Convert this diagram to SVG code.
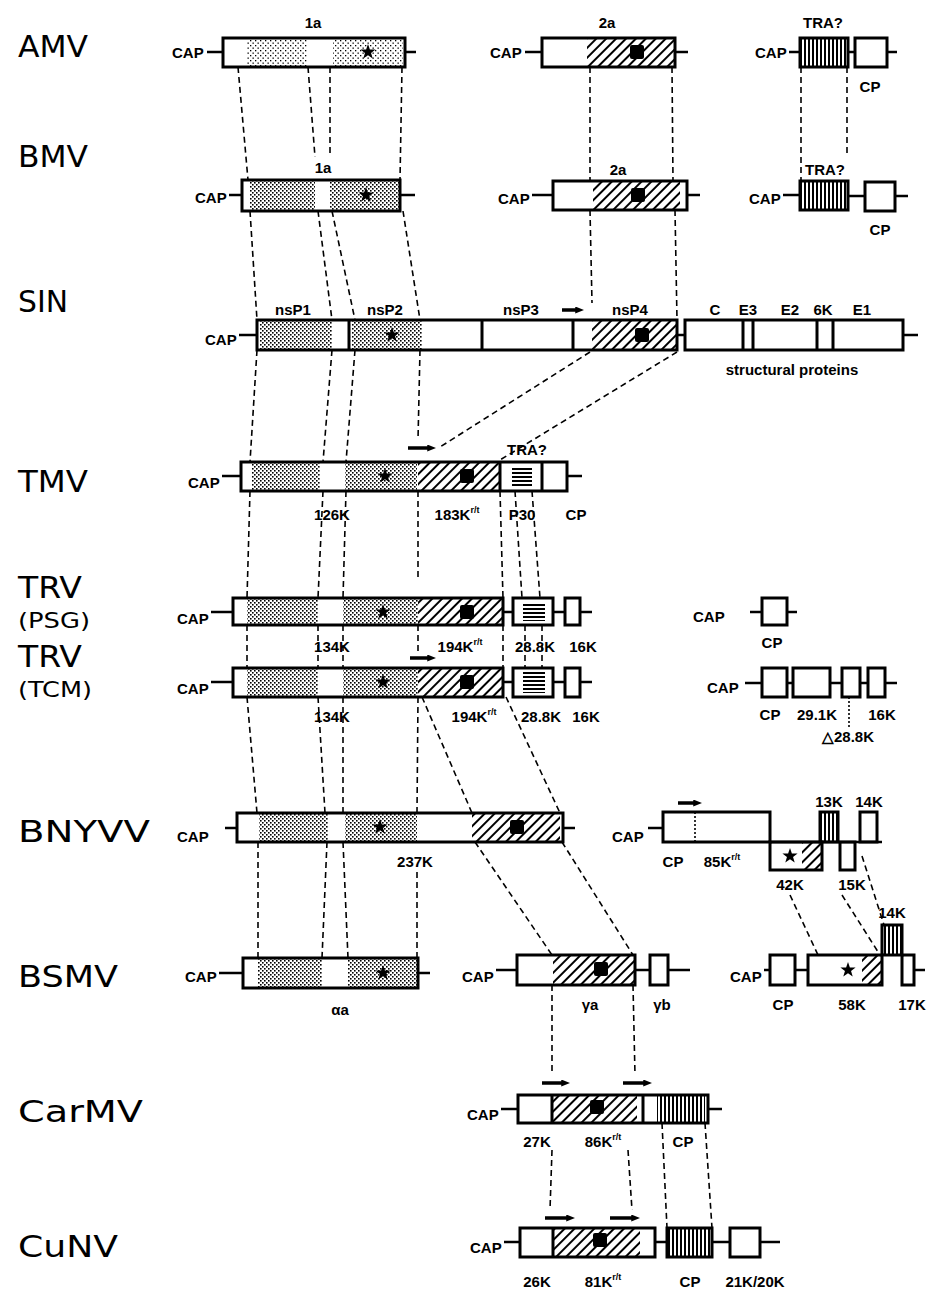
<svg xmlns="http://www.w3.org/2000/svg" width="929" height="1296" viewBox="0 0 929 1296">
<style>
.o{fill:none;stroke:#000;stroke-width:3}
.w{stroke:#000;stroke-width:2.5;fill:none}
.d{stroke:#000;stroke-width:1.6;stroke-dasharray:6 4;fill:none}
.dt{stroke:#000;stroke-width:1.6;stroke-dasharray:2 2;fill:none}
.t{font-family:"Liberation Sans",Arial,sans-serif;font-weight:bold;font-size:15px;fill:#000}
.m{text-anchor:middle}
.v{font-family:"DejaVu Sans",sans-serif;font-size:30px;fill:#000}
.v2{font-family:"DejaVu Sans",sans-serif;font-size:21px;fill:#000}
.s{font-size:9px}
.ar{stroke:#000;stroke-width:3.5;marker-end:url(#ah)}
</style>
<defs>
<pattern id="dots" width="4" height="4" patternUnits="userSpaceOnUse"><rect width="1.6" height="1.6"/><rect x="2" y="2" width="1.6" height="1.6"/></pattern>
<pattern id="dotsL" width="5" height="5" patternUnits="userSpaceOnUse"><rect width="1.3" height="1.3"/><rect x="2.5" y="2.5" width="1.3" height="1.3"/></pattern>
<pattern id="hatch" width="7" height="7" patternUnits="userSpaceOnUse" patternTransform="rotate(45)"><rect width="2" height="7"/></pattern>
<pattern id="vl" width="4" height="8" patternUnits="userSpaceOnUse"><rect width="2" height="8"/></pattern>
<pattern id="hl" width="8" height="4" patternUnits="userSpaceOnUse"><rect width="8" height="2"/></pattern>
<polygon id="star" points="0,-8 1.88,-2.59 7.61,-2.47 3.04,0.99 4.70,6.47 0,3.2 -4.70,6.47 -3.04,0.99 -7.61,-2.47 -1.88,-2.59"/>
<rect id="sq" x="-7" y="-7" width="14" height="14" rx="2"/>
<marker id="ah" markerWidth="2.5" markerHeight="2" refX="0.5" refY="1" orient="auto"><path d="M0,0 L2.5,1 L0,2z"/></marker>
</defs>
<rect width="929" height="1296" fill="#fff"/>

<g id="connectors">
<path class="d" d="M238 67L248 180M308 67L315 157M330 67L330 157M402 67L400 180"/>
<path class="d" d="M590 67L590 181M672 67L673 181M801 67L801 181M847 67L847 157"/>
<path class="d" d="M250 211L257 320M318 211L332 320M332 211L355 320M403 211L420 320"/>
<path class="d" d="M590 210L592 303M675 210L677 320"/>
<path class="d" d="M257 350L250 462M332 350L323 462M355 350L346 462M420 350L418 440"/>
<path class="d" d="M590 352L440 447M677 352L500 460"/>
<path class="d" d="M250 491L247 598M323 491L318 598M346 491L343 598M418 491L418 580M500 491L503 598M515 491L522 598M532 491L540 598"/>
<path class="d" d="M247 625L247 668M318 625L318 668M343 625L343 668M418 625L418 651M503 625L503 668M525 625L525 668M542 625L542 668"/>
<path class="d" d="M247 697L257 813M318 697L325 813M343 697L343 813M418 697L417 813M422 697L472 813M506 697L560 813"/>
<path class="d" d="M258 842L258 958M327 842L322 958M343 842L348 958M417 872L417 958M475 842L552 955M562 842L633 955"/>
<path class="d" d="M790 895L818 955M842 895L880 955M862 856L884 925"/>
<path class="d" d="M552 985L552 1075M633 985L635 1075"/>
<path class="d" d="M552 1150L550 1210M628 1150L632 1210M662 1123L667 1228M705 1123L712 1228"/>
<path class="dt" d="M849 697L849 728"/>
</g>

<g id="AMV">
<text class="v" x="18" y="57" textLength="70" lengthAdjust="spacingAndGlyphs">AMV</text>
<text class="t" x="172" y="58">CAP</text>
<path class="w" d="M207 52H223M405 52H416"/>
<rect x="247" y="38" width="60" height="29" fill="url(#dotsL)"/>
<rect x="333" y="38" width="70" height="29" fill="url(#dotsL)"/>
<use href="#star" x="368" y="52"/>
<rect class="o" x="223" y="38" width="182" height="29"/>
<text class="t m" x="313" y="28">1a</text>
<text class="t" x="490" y="58">CAP</text>
<path class="w" d="M525 52H542M675 52H688"/>
<rect x="587" y="38" width="88" height="29" fill="url(#hatch)"/>
<use href="#sq" x="637" y="52"/>
<rect class="o" x="542" y="38" width="133" height="29"/>
<text class="t m" x="607" y="28">2a</text>
<text class="t" x="755" y="58">CAP</text>
<path class="w" d="M789 52H800M848 52H855M887 52H897"/>
<rect x="800" y="38" width="48" height="29" fill="url(#vl)"/>
<rect class="o" x="800" y="38" width="48" height="29"/>
<rect class="o" x="855" y="38" width="32" height="29"/>
<text class="t m" x="823" y="28">TRA?</text>
<text class="t m" x="870" y="92">CP</text>
</g>

<g id="BMV">
<text class="v" x="18" y="167" textLength="70" lengthAdjust="spacingAndGlyphs">BMV</text>
<text class="t" x="195" y="203">CAP</text>
<path class="w" d="M229 195H242M400 195H415"/>
<rect x="250" y="180" width="65" height="31" fill="url(#dots)"/>
<rect x="330" y="180" width="70" height="31" fill="url(#dots)"/>
<use href="#star" x="366" y="195"/>
<rect class="o" x="242" y="180" width="158" height="31"/>
<text class="t m" x="323" y="173">1a</text>
<text class="t" x="498" y="204">CAP</text>
<path class="w" d="M532 195H553M687 195H700"/>
<rect x="593" y="181" width="87" height="29" fill="url(#hatch)"/>
<use href="#sq" x="638" y="195"/>
<rect class="o" x="553" y="181" width="134" height="29"/>
<text class="t m" x="618" y="175">2a</text>
<text class="t" x="749" y="204">CAP</text>
<path class="w" d="M783 195H800M848 196H865M895 196H908"/>
<rect x="800" y="181" width="48" height="29" fill="url(#vl)"/>
<rect class="o" x="800" y="181" width="48" height="29"/>
<rect class="o" x="865" y="182" width="30" height="29"/>
<text class="t m" x="825" y="175">TRA?</text>
<text class="t m" x="880" y="235">CP</text>
</g>

<g id="SIN">
<text class="v" x="18" y="312" textLength="50" lengthAdjust="spacingAndGlyphs">SIN</text>
<text class="t" x="205" y="345">CAP</text>
<path class="w" d="M239 335H257M677 335H685M903 335H918"/>
<rect x="260" y="320" width="72" height="30" fill="url(#dots)"/>
<rect x="352" y="320" width="70" height="30" fill="url(#dots)"/>
<use href="#star" x="392" y="335"/>
<rect x="592" y="320" width="85" height="30" fill="url(#hatch)"/>
<use href="#sq" x="642" y="335"/>
<rect class="o" x="257" y="320" width="420" height="30"/>
<path class="o" d="M349 320V350M482 320V350M573 320V350"/>
<rect class="o" x="685" y="320" width="218" height="30"/>
<path class="o" d="M743 320V350M753 320V350M817 320V350M833 320V350"/>
<text class="t m" x="293" y="315">nsP1</text>
<text class="t m" x="385" y="315">nsP2</text>
<text class="t m" x="521" y="315">nsP3</text>
<path class="ar" d="M562 310H577"/>
<text class="t m" x="630" y="315">nsP4</text>
<text class="t m" x="715" y="315">C</text>
<text class="t m" x="748" y="315">E3</text>
<text class="t m" x="790" y="315">E2</text>
<text class="t m" x="823" y="315">6K</text>
<text class="t m" x="862" y="315">E1</text>
<text class="t m" x="792" y="375">structural proteins</text>
</g>

<g id="TMV">
<text class="v" x="18" y="492" textLength="70" lengthAdjust="spacingAndGlyphs">TMV</text>
<text class="t" x="188" y="488">CAP</text>
<path class="w" d="M222 476H241M567 476H582"/>
<rect x="252" y="462" width="68" height="29" fill="url(#dots)"/>
<rect x="345" y="462" width="72" height="29" fill="url(#dots)"/>
<use href="#star" x="385" y="476"/>
<rect x="418" y="462" width="82" height="29" fill="url(#hatch)"/>
<use href="#sq" x="467" y="476"/>
<rect x="512" y="467" width="20" height="19" fill="url(#hl)"/>
<rect class="o" x="241" y="462" width="326" height="29"/>
<path class="o" d="M500 462V491M542 462V491"/>
<path class="ar" d="M408 448H429"/>
<text class="t m" x="527" y="455">TRA?</text>
<text class="t m" x="332" y="520">126K</text>
<text class="t m" x="457" y="520">183K<tspan class="s" dy="-7">r/t</tspan></text>
<text class="t m" x="522" y="520">P30</text>
<text class="t m" x="576" y="520">CP</text>
</g>

<g id="TRV_PSG">
<text class="v" x="18" y="598" textLength="64" lengthAdjust="spacingAndGlyphs">TRV</text>
<text class="v2" x="18" y="628" textLength="72" lengthAdjust="spacingAndGlyphs">(PSG)</text>
<text class="t" x="177" y="624">CAP</text>
<path class="w" d="M211 612H233M503 612H513M553 612H565M580 612H592"/>
<rect x="247" y="598" width="71" height="27" fill="url(#dots)"/>
<rect x="343" y="598" width="75" height="27" fill="url(#dots)"/>
<use href="#star" x="383" y="612"/>
<rect x="418" y="598" width="85" height="27" fill="url(#hatch)"/>
<use href="#sq" x="467" y="612"/>
<rect class="o" x="233" y="598" width="270" height="27"/>
<rect x="523" y="602" width="22" height="19" fill="url(#hl)"/>
<rect class="o" x="513" y="598" width="40" height="27"/>
<rect class="o" x="565" y="598" width="15" height="27"/>
<text class="t m" x="332" y="652">134K</text>
<text class="t m" x="460" y="652">194K<tspan class="s" dy="-7">r/t</tspan></text>
<text class="t m" x="535" y="652">28.8K</text>
<text class="t m" x="583" y="652">16K</text>
<text class="t" x="693" y="622">CAP</text>
<path class="w" d="M750 612H762M787 612H797"/>
<rect class="o" x="762" y="598" width="25" height="27"/>
<text class="t m" x="772" y="648">CP</text>
</g>

<g id="TRV_TCM">
<text class="v" x="18" y="667" textLength="64" lengthAdjust="spacingAndGlyphs">TRV</text>
<text class="v2" x="18" y="697" textLength="74" lengthAdjust="spacingAndGlyphs">(TCM)</text>
<text class="t" x="177" y="694">CAP</text>
<path class="w" d="M211 682H233M503 682H513M553 682H565M580 682H592"/>
<rect x="247" y="668" width="71" height="29" fill="url(#dots)"/>
<rect x="343" y="668" width="75" height="29" fill="url(#dots)"/>
<use href="#star" x="383" y="682"/>
<rect x="418" y="668" width="85" height="29" fill="url(#hatch)"/>
<use href="#sq" x="467" y="682"/>
<rect class="o" x="233" y="668" width="270" height="29"/>
<rect x="523" y="672" width="22" height="21" fill="url(#hl)"/>
<rect class="o" x="513" y="668" width="40" height="29"/>
<rect class="o" x="565" y="668" width="15" height="29"/>
<path class="ar" d="M410 658H429"/>
<text class="t m" x="332" y="722">134K</text>
<text class="t m" x="474" y="722">194K<tspan class="s" dy="-7">r/t</tspan></text>
<text class="t m" x="541" y="722">28.8K</text>
<text class="t m" x="586" y="722">16K</text>
<text class="t" x="707" y="693">CAP</text>
<path class="w" d="M745 683H762M787 683H793M830 683H842M860 683H868M885 683H897"/>
<rect class="o" x="762" y="668" width="25" height="29"/>
<rect class="o" x="793" y="668" width="37" height="29"/>
<rect class="o" x="842" y="668" width="18" height="29"/>
<rect class="o" x="868" y="668" width="17" height="29"/>
<text class="t m" x="770" y="720">CP</text>
<text class="t m" x="817" y="720">29.1K</text>
<text class="t m" x="882" y="720">16K</text>
<text class="t m" x="848" y="742">△28.8K</text>
</g>

<g id="BNYVV">
<text class="v" x="18" y="842" textLength="132" lengthAdjust="spacingAndGlyphs">BNYVV</text>
<text class="t" x="177" y="842">CAP</text>
<path class="w" d="M225 828H237M563 828H575"/>
<rect x="259" y="813" width="69" height="29" fill="url(#dots)"/>
<rect x="345" y="813" width="72" height="29" fill="url(#dots)"/>
<use href="#star" x="380" y="827"/>
<rect x="472" y="813" width="88" height="29" fill="url(#hatch)"/>
<use href="#sq" x="517" y="827"/>
<rect class="o" x="237" y="813" width="326" height="29"/>
<text class="t m" x="415" y="867">237K</text>
<text class="t" x="612" y="842">CAP</text>
<path class="w" d="M648 828H663M770 842H882"/>
<rect class="o" x="663" y="812" width="107" height="30"/>
<path class="dt" d="M695 812V842"/>
<path class="ar" d="M678 803H695"/>
<rect x="802" y="842" width="20" height="28" fill="url(#hatch)"/>
<use href="#star" x="790" y="856"/>
<rect class="o" x="770" y="842" width="52" height="28"/>
<rect x="820" y="812" width="18" height="30" fill="url(#vl)"/>
<rect class="o" x="820" y="812" width="18" height="30"/>
<rect class="o" x="840" y="842" width="15" height="28"/>
<rect class="o" x="860" y="812" width="17" height="30"/>
<text class="t m" x="673" y="867">CP</text>
<text class="t m" x="722" y="867">85K<tspan class="s" dy="-7">r/t</tspan></text>
<text class="t m" x="790" y="890">42K</text>
<text class="t m" x="852" y="890">15K</text>
<text class="t m" x="829" y="807">13K</text>
<text class="t m" x="869" y="807">14K</text>
</g>

<g id="BSMV">
<text class="v" x="18" y="987" textLength="100" lengthAdjust="spacingAndGlyphs">BSMV</text>
<text class="t" x="185" y="982">CAP</text>
<path class="w" d="M219 973H243M418 973H430"/>
<rect x="258" y="958" width="64" height="30" fill="url(#dots)"/>
<rect x="348" y="958" width="70" height="30" fill="url(#dots)"/>
<use href="#star" x="383" y="973"/>
<rect class="o" x="243" y="958" width="175" height="30"/>
<text class="t m" x="340" y="1015">αa</text>
<text class="t" x="462" y="982">CAP</text>
<path class="w" d="M496 970H517M635 970H650M668 970H690"/>
<rect x="553" y="955" width="82" height="30" fill="url(#hatch)"/>
<use href="#sq" x="601" y="969"/>
<rect class="o" x="517" y="955" width="118" height="30"/>
<rect class="o" x="650" y="955" width="18" height="30"/>
<text class="t m" x="590" y="1010">γa</text>
<text class="t m" x="662" y="1010">γb</text>
<text class="t" x="730" y="982">CAP</text>
<path class="w" d="M764 970H770M795 970H808M914 970H925"/>
<rect class="o" x="770" y="955" width="25" height="30"/>
<rect x="862" y="955" width="20" height="30" fill="url(#hatch)"/>
<use href="#star" x="848" y="970"/>
<rect class="o" x="808" y="955" width="74" height="30"/>
<rect x="882" y="925" width="20" height="30" fill="url(#vl)"/>
<rect class="o" x="882" y="925" width="20" height="30"/>
<rect class="o" x="902" y="955" width="12" height="30"/>
<text class="t m" x="783" y="1010">CP</text>
<text class="t m" x="852" y="1010">58K</text>
<text class="t m" x="912" y="1010">17K</text>
<text class="t m" x="892" y="918">14K</text>
</g>

<g id="CarMV">
<text class="v" x="18" y="1122" textLength="125" lengthAdjust="spacingAndGlyphs">CarMV</text>
<text class="t" x="467" y="1120">CAP</text>
<path class="w" d="M501 1109H518M708 1109H722"/>
<rect x="552" y="1095" width="85" height="28" fill="url(#hatch)"/>
<use href="#sq" x="597" y="1107"/>
<rect x="657" y="1095" width="48" height="28" fill="url(#vl)"/>
<rect class="o" x="518" y="1095" width="190" height="28"/>
<path class="o" d="M552 1095V1123M643 1095V1123"/>
<path class="ar" d="M542 1083H563"/>
<path class="ar" d="M623 1083H645"/>
<text class="t m" x="537" y="1147">27K</text>
<text class="t m" x="603" y="1147">86K<tspan class="s" dy="-7">r/t</tspan></text>
<text class="t m" x="683" y="1147">CP</text>
</g>

<g id="CuNV">
<text class="v" x="18" y="1257" textLength="100" lengthAdjust="spacingAndGlyphs">CuNV</text>
<text class="t" x="470" y="1253">CAP</text>
<path class="w" d="M504 1242H520M655 1242H667M712 1242H730M760 1242H780"/>
<rect x="553" y="1228" width="87" height="29" fill="url(#hatch)"/>
<use href="#sq" x="600" y="1240"/>
<rect class="o" x="520" y="1228" width="135" height="29"/>
<path class="o" d="M553 1228V1257"/>
<rect x="667" y="1228" width="45" height="29" fill="url(#vl)"/>
<rect class="o" x="667" y="1228" width="45" height="29"/>
<rect class="o" x="730" y="1228" width="30" height="29"/>
<path class="ar" d="M545 1218H568"/>
<path class="ar" d="M610 1218H633"/>
<text class="t m" x="537" y="1287">26K</text>
<text class="t m" x="603" y="1287">81K<tspan class="s" dy="-7">r/t</tspan></text>
<text class="t m" x="690" y="1287">CP</text>
<text class="t m" x="755" y="1287">21K/20K</text>
</g>
</svg>
